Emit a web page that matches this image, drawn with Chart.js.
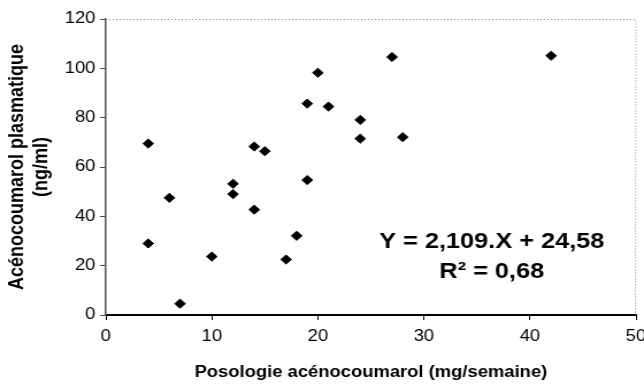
<!DOCTYPE html>
<html>
<head>
<meta charset="utf-8">
<script src="https://cdn.jsdelivr.net/npm/chart.js@4/dist/chart.umd.min.js"></script>
<style>
  html, body { margin: 0; padding: 0; background: #fff; }
  /* the scanned figure is a bit wider than tall, so stretch the canvas sideways */
  #chart { display: block; transform: scaleX(1.15); transform-origin: 0 0; }
</style>
</head>
<body>
<canvas id="chart" width="560" height="385"></canvas>
<script>
// dose (mg/semaine) and plasma level (ng/ml), one entry per patient
const doseX  = [4, 4, 6, 7, 10, 12, 12, 14, 14, 15, 17, 18, 19, 19, 20, 21, 24, 24, 27, 28, 42];
const levelY = [69.5, 29, 47.5, 4.6, 23.7, 53.2, 49, 68.3, 42.7, 66.4, 22.5, 32.1, 85.7, 54.7, 98.2, 84.5, 79.1, 71.5, 104.6, 72.1, 105.1];

const xTitle = "Posologie acénocoumarol (mg/semaine)";
const yTitle = ["Acénocoumarol plasmatique", "(ng/ml)"];

// regression text and where it sits, in data units
const eqLines = ["Y = 2,109.X + 24,58", "R² = 0,68"];
const eqX = 36.4;
const eqY = [29.7, 17.6];

const FONT = "'Liberation Sans', Arial, sans-serif";

const points = doseX.map((x, i) => ({ x: x, y: levelY[i] }));

const framePlugin = {
  id: "frame",
  beforeDatasetsDraw(chart) {
    const { ctx, chartArea: a } = chart;
    ctx.save();
    ctx.strokeStyle = "#8a8a8a";
    ctx.lineWidth = 1;
    ctx.setLineDash([1, 2]);
    ctx.beginPath();
    ctx.moveTo(a.left, a.top + 0.5);
    ctx.lineTo(a.right, a.top + 0.5);
    ctx.lineTo(a.right - 0.5, a.bottom);
    ctx.stroke();
    ctx.restore();
  }
};

const equationPlugin = {
  id: "equation",
  afterDraw(chart) {
    const { ctx, scales } = chart;
    ctx.save();
    ctx.fillStyle = "#000";
    ctx.font = "bold 22px " + FONT;
    ctx.textAlign = "center";
    ctx.textBaseline = "middle";
    eqLines.forEach((t, i) => {
      ctx.fillText(t, scales.x.getPixelForValue(eqX), scales.y.getPixelForValue(eqY[i]));
    });
    ctx.restore();
  }
};

new Chart(document.getElementById("chart"), {
  type: "scatter",
  data: {
    datasets: [{
      data: points,
      pointStyle: "rectRot",
      pointRadius: 4.6,
      backgroundColor: "#000",
      borderColor: "#000",
      borderWidth: 1
    }]
  },
  options: {
    responsive: false,
    animation: false,
    devicePixelRatio: 1,
    layout: { padding: { left: 0, right: 7, top: 19, bottom: 0 } },
    plugins: { legend: { display: false }, tooltip: { enabled: false } },
    scales: {
      x: {
        type: "linear",
        min: 0, max: 50,
        ticks: { stepSize: 10, color: "#000", font: { family: FONT, size: 16 }, padding: 7, maxRotation: 0 },
        grid: { drawOnChartArea: false, tickLength: 5, color: "#000" },
        border: { color: "#000", width: 2 },
        title: { display: true, text: xTitle, color: "#000", font: { family: FONT, size: 16, weight: "bold" }, padding: { top: 0, bottom: 3 } },
        afterFit(s) { s.height = 70; s.paddingLeft = 0; s.paddingRight = 0; }
      },
      y: {
        min: 0, max: 120,
        ticks: { stepSize: 20, color: "#000", font: { family: FONT, size: 16 }, padding: 4 },
        grid: { drawOnChartArea: false, tickLength: 5, color: "#444" },
        border: { color: "#555", width: 1.5 },
        title: { display: true, text: yTitle, color: "#000", font: { family: FONT, size: 18, weight: "bold" }, padding: { top: 4, bottom: 0 } },
        afterFit(s) { s.width = 92; s.paddingTop = 0; s.paddingBottom = 0; }
      }
    }
  },
  plugins: [framePlugin, equationPlugin]
});
</script>
</body>
</html>
